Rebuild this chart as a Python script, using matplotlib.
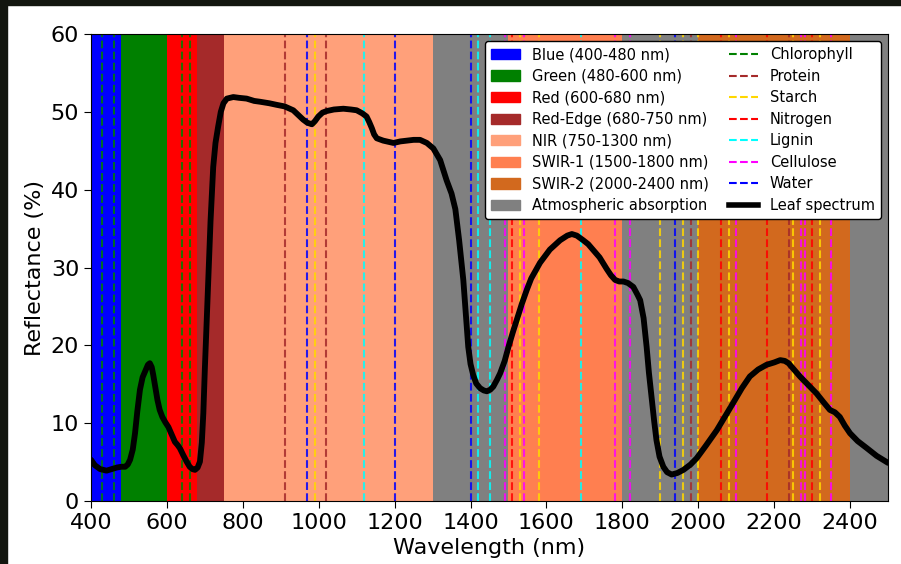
import numpy as np
import matplotlib
matplotlib.use("Agg")
import matplotlib.pyplot as plt
from matplotlib.patches import Patch, Rectangle
from matplotlib.lines import Line2D

# Spectral bands (start, end, label, colour)
band_labels = ["Blue (400-480 nm)", "Green (480-600 nm)", "Red (600-680 nm)",
               "Red-Edge (680-750 nm)", "NIR (750-1300 nm)", "SWIR-1 (1500-1800 nm)",
               "SWIR-2 (2000-2400 nm)"]
band_starts = [400, 480, 600, 680, 750, 1500, 2000]
band_ends = [480, 600, 680, 750, 1300, 1800, 2400]
band_colors = ["blue", "green", "red", "brown", "lightsalmon", "coral", "chocolate"]

atm_starts = [1300, 1800, 2400]
atm_ends = [1500, 2000, 2500]

# Absorption features (nm)
feature_names = ["Chlorophyll", "Protein", "Starch", "Nitrogen", "Lignin", "Cellulose", "Water"]
feature_colors = ["green", "brown", "gold", "red", "cyan", "magenta", "blue"]
chlorophyll = [430, 460, 640, 662]
protein = [910, 1020, 1980, 2240]
starch = [990, 1530, 1580, 1900, 1960, 2000, 2080, 2250, 2320]
nitrogen = [1510, 2060, 2180, 2300]
lignin = [1120, 1420, 1450, 1690]
cellulose = [1490, 1540, 1780, 1820, 2100, 2270, 2280, 2350]
water = [970, 1200, 1400, 1940]
features = [chlorophyll, protein, starch, nitrogen, lignin, cellulose, water]

# Leaf spectrum
wavelength = [400, 410, 424, 441, 455, 468, 480, 490, 497, 503, 510, 516, 522, 529, 536,
              544, 550, 555, 560, 564, 570, 575, 581, 588, 596, 604, 612, 621, 628, 634,
              643, 652, 660, 667, 674, 681, 687, 692, 696, 700, 705, 709, 715, 722, 728,
              735, 742, 749, 758, 775, 790, 810, 830, 845, 870, 889, 910, 933, 946, 959,
              970, 982, 990, 999, 1010, 1021, 1040, 1065, 1085, 1100, 1115, 1126, 1133,
              1140, 1146, 1153, 1170, 1197, 1215, 1232, 1250, 1267, 1285, 1302, 1320,
              1337, 1350, 1360, 1370, 1381, 1388, 1394, 1400, 1407, 1415, 1425, 1435,
              1443, 1452, 1460, 1470, 1478, 1490, 1500, 1511, 1522, 1535, 1548, 1560,
              1583, 1609, 1636, 1655, 1667, 1680, 1697, 1710, 1724, 1740, 1759, 1770,
              1781, 1792, 1803, 1815, 1829, 1840, 1847, 1856, 1864, 1870, 1877, 1884,
              1890, 1898, 1908, 1918, 1930, 1945, 1961, 1980, 1996, 2020, 2049, 2070,
              2092, 2115, 2136, 2158, 2180, 2200, 2216, 2228, 2238, 2252, 2268, 2290,
              2312, 2330, 2347, 2360, 2373, 2386, 2400, 2420, 2444, 2470, 2490, 2500]
reflectance = [5.3, 4.6, 4.1, 3.9, 4.1, 4.3, 4.4, 4.4, 4.7, 5.3, 6.6, 8.7, 11.5, 14.3, 15.9,
               16.8, 17.5, 17.7, 17.2, 16.2, 14.5, 13.0, 11.7, 10.8, 10.1, 9.5, 8.6, 7.6, 7.2, 6.8,
               5.9, 5.05, 4.4, 4.1, 4.0, 4.3, 5.05, 7.5, 11.3, 17.0, 23.3, 28.4, 36.0, 42.9, 46.0,
               48.1, 50.0, 51.1, 51.7, 51.9, 51.8, 51.7, 51.4, 51.3, 51.1, 50.9, 50.7, 50.2, 49.6, 49.0,
               48.6, 48.4, 48.8, 49.4, 49.9, 50.1, 50.3, 50.4, 50.3, 50.2, 49.8, 49.4, 48.7,
               47.9, 47.1, 46.6, 46.3, 46.0, 46.2, 46.3, 46.4, 46.4, 46.0, 45.3, 43.8,
               41.2, 39.5, 37.5, 33.5, 28.4, 23.8, 19.8, 17.6, 16.2, 15.1, 14.5, 14.2,
               14.1, 14.3, 14.7, 15.6, 16.4, 18.0, 19.8, 21.6, 23.3, 25.3, 27.1, 28.6,
               30.6, 32.3, 33.5, 34.1, 34.3, 34.1, 33.5, 33.0, 32.2, 31.3, 29.8, 29.0,
               28.4, 28.2, 28.2, 28.0, 27.5, 26.5, 25.8, 23.5, 19.8, 16.5, 13.4, 10.2,
               7.8, 5.7, 4.4, 3.7, 3.4, 3.6, 4.0, 4.7, 5.5, 7.1, 9.1, 10.8,
               12.6, 14.5, 16.0, 16.9, 17.5, 17.8, 18.1, 18.0, 17.7, 16.9, 16.0, 14.9,
               13.8, 12.7, 11.7, 11.4, 10.8, 9.7, 8.7, 7.7, 6.8, 5.8, 5.2, 4.9]

fig = plt.figure(figsize=(9.01, 5.64), dpi=100)
ax = fig.add_axes([91 / 901, 1 - 501 / 564, 797 / 901, 467 / 564])

for s, e, c in zip(band_starts, band_ends, band_colors):
    ax.axvspan(s, e, color=c, lw=0, zorder=0)
for s, e in zip(atm_starts, atm_ends):
    ax.axvspan(s, e, color="gray", lw=0, zorder=0)

for wl_list, c in zip(features, feature_colors):
    for wl in wl_list:
        ax.axvline(wl, color=c, ls="--", lw=1.5, alpha=0.85, zorder=1)

ax.plot(wavelength, reflectance, color="black", lw=4.2, solid_joinstyle="round",
        solid_capstyle="round", zorder=3)

ax.set_xlim(400, 2500)
ax.set_ylim(0, 60)
ax.set_xticks(range(400, 2401, 200))
ax.set_yticks(range(0, 61, 10))
ax.tick_params(labelsize=16, length=5)
ax.set_xlabel("Wavelength (nm)", fontsize=16, labelpad=4)
ax.set_ylabel("Reflectance (%)", fontsize=16, labelpad=4)

handles = [Patch(facecolor=c, edgecolor=c, label=l) for l, c in zip(band_labels, band_colors)]
handles.append(Patch(facecolor="gray", edgecolor="gray", label="Atmospheric absorption"))
handles += [Line2D([0], [0], color=c, ls="--", lw=1.5, label=n)
            for n, c in zip(feature_names, feature_colors)]
handles.append(Line2D([0], [0], color="black", lw=4, label="Leaf spectrum"))
leg = ax.legend(handles=handles, ncol=2, loc="upper right", fontsize=10.5,
                framealpha=1, edgecolor="black", fancybox=True,
                handlelength=2.0, columnspacing=1.4, labelspacing=0.45,
                borderaxespad=0.5)

# dark screenshot frame at top and left
fig.patches.append(Rectangle((0, 1 - 5 / 564), 1, 5 / 564, transform=fig.transFigure,
                             color="#13160f", zorder=10))
fig.patches.append(Rectangle((0, 0), 7 / 901, 1, transform=fig.transFigure,
                             color="#13160f", zorder=10))

fig.savefig("out.png", dpi=100)
